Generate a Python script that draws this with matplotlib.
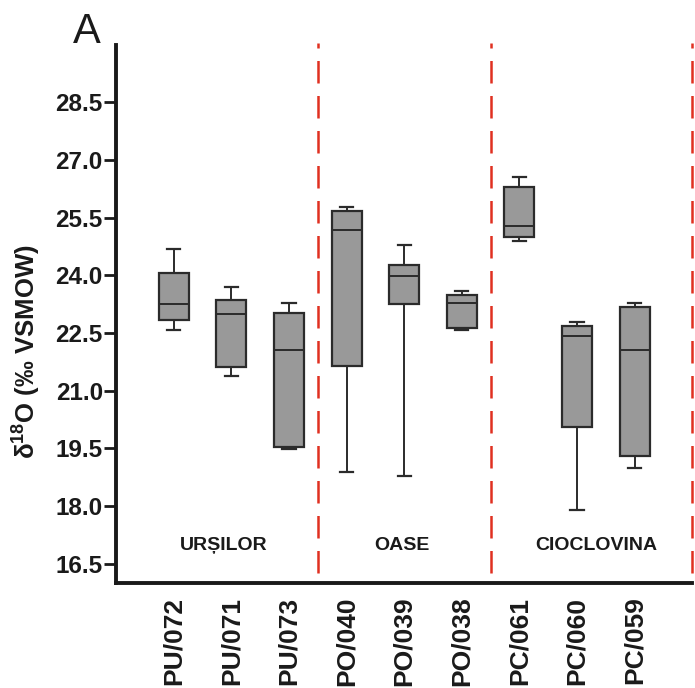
import matplotlib as mtp
mtp.use("Agg")
import matplotlib.pyplot as plt

plt.rcParams['font.family'] = ['Liberation Sans', 'DejaVu Sans']
plt.rcParams['mathtext.fontset'] = 'custom'
plt.rcParams['mathtext.bf'] = 'Liberation Sans:bold'
plt.rcParams['mathtext.rm'] = 'Liberation Sans:bold'
plt.rcParams['mathtext.default'] = 'bf'

# sample names and box statistics
samples = ['PU/072', 'PU/071', 'PU/073', 'PO/040', 'PO/039', 'PO/038',
           'PC/061', 'PC/060', 'PC/059']
whislo = [22.58, 21.39, 19.49, 18.88, 18.78, 22.58, 24.89, 17.88, 18.99]
q1 = [22.84, 21.61, 19.54, 21.65, 23.25, 22.64, 24.99, 20.06, 19.29]
med = [23.26, 22.98, 22.06, 25.19, 23.99, 23.27, 25.27, 22.43, 22.06]
q3 = [24.06, 23.35, 23.02, 25.68, 24.27, 23.49, 26.29, 22.69, 23.17]
whishi = [24.69, 23.70, 23.27, 25.78, 24.78, 23.58, 26.56, 22.79, 23.28]

groups = ['URȘILOR', 'OASE', 'CIOCLOVINA']
group_x = [1.86, 4.97, 8.34]
dividers = [3.5, 6.5, 10.0]

stats = []
for i in range(len(samples)):
    stats.append({'label': samples[i], 'whislo': whislo[i], 'q1': q1[i],
                  'med': med[i], 'q3': q3[i], 'whishi': whishi[i], 'fliers': []})

fig = plt.figure(figsize=(6.95, 6.88), dpi=100)
ax = fig.add_axes([0.167, 0.153, 0.829, 0.782])

pos = list(range(1, len(samples) + 1))
ax.bxp(stats, positions=pos, widths=0.52, capwidths=0.23, patch_artist=True,
       showfliers=False,
       boxprops=dict(facecolor='#999999', edgecolor='#2b2b2b', linewidth=1.6),
       medianprops=dict(color='#2b2b2b', linewidth=1.4),
       whiskerprops=dict(color='#2b2b2b', linewidth=1.4),
       capprops=dict(color='#2b2b2b', linewidth=1.6))

for xd in dividers:
    ax.plot([xd, xd], [16.25, 30.05], color='#e03020', linewidth=1.8,
            dashes=(9, 5), clip_on=False)

for name, gx in zip(groups, group_x):
    ax.text(gx, 16.85, name, ha='center', va='baseline', fontsize=14,
            fontweight='bold', color='#1a1a1a')

ax.set_xlim(0, 10)
ax.set_ylim(16.0, 30.0)
ax.set_yticks([16.5, 18.0, 19.5, 21.0, 22.5, 24.0, 25.5, 27.0, 28.5])
ax.set_yticklabels(['16.5', '18.0', '19.5', '21.0', '22.5', '24.0', '25.5', '27.0', '28.5'],
                   fontsize=17.5, fontweight='bold', color='#1a1a1a')
ax.set_xticks(pos)
ax.set_xticklabels(samples, rotation=90, fontsize=19, fontweight='bold', color='#1a1a1a')
ax.tick_params(axis='x', length=0, pad=10)
ax.tick_params(axis='y', length=8.5, width=2, pad=1, color='#1a1a1a')

for s in ['top', 'right']:
    ax.spines[s].set_visible(False)
for s in ['left', 'bottom']:
    ax.spines[s].set_linewidth(2.8)
    ax.spines[s].set_color('#1a1a1a')

ax.set_ylabel(r'δ$^{18}$O (‰ VSMOW)', fontsize=18.5, fontweight='bold', color='#1a1a1a')
ax.yaxis.set_label_coords(-0.126, 0.43)

fig.text(0.125, 0.9375, 'A', fontsize=30, ha='center', va='baseline', color='#1a1a1a')

plt.savefig('out.png', dpi=100)
